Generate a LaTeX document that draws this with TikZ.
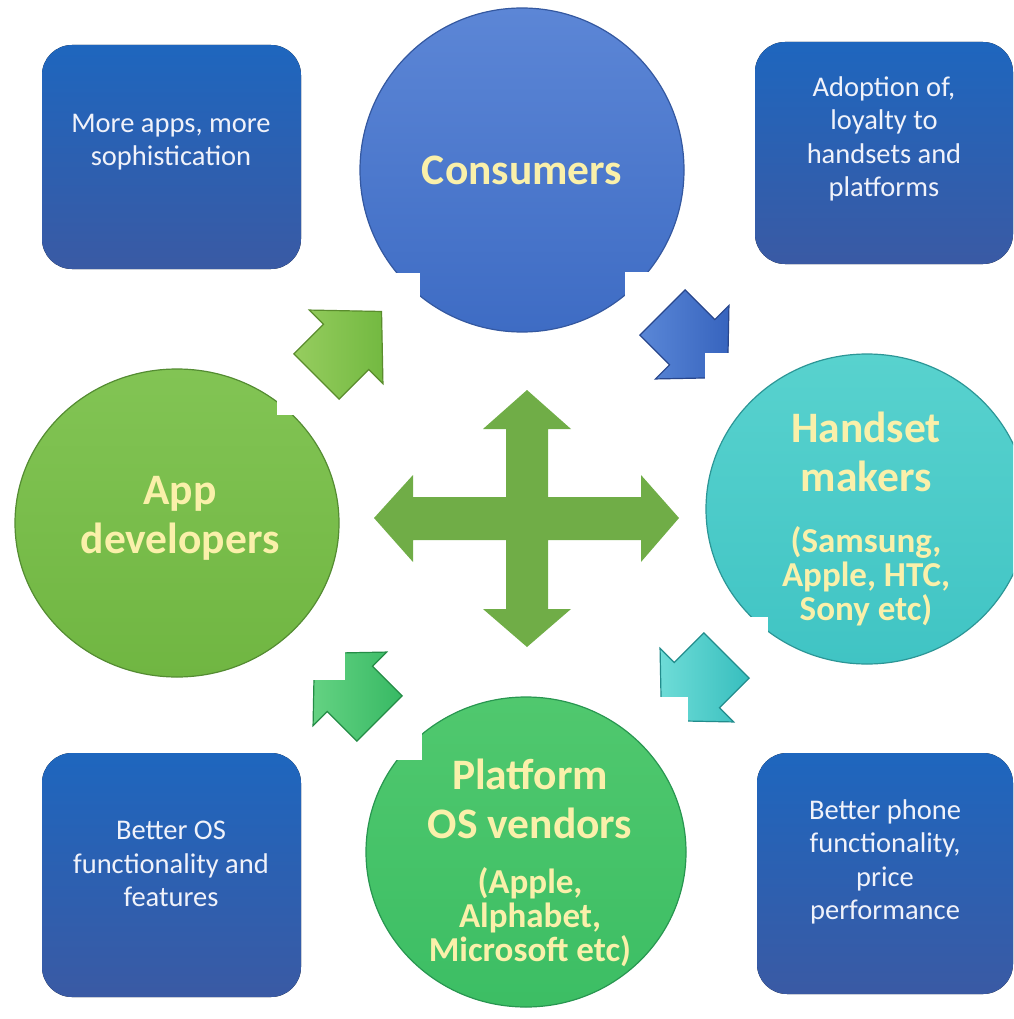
\documentclass[tikz,border=0pt]{standalone}
\usepackage{fontspec}
\setmainfont{Carlito}
\definecolor{boxtop}{RGB}{30,102,190}
\definecolor{boxbot}{RGB}{58,90,164}
\definecolor{boxtext}{RGB}{240,242,250}
\definecolor{ringtext}{RGB}{250,240,170}
\definecolor{crossgreen}{RGB}{112,173,71}
\tikzset{
  infobox/.style={rounded corners=30pt,top color=boxtop,bottom color=boxbot},
  infotext/.style={text=boxtext,align=center,font=\fontsize{28.5}{33.5}\selectfont},
  ringtitle/.style={text=ringtext,align=center,font=\bfseries\fontsize{43.5}{49}\selectfont},
  ringsub/.style={text=ringtext,align=center,font=\bfseries\fontsize{35}{34}\selectfont},
  cutout/.style={fill=white},
  bevel/.style={line width=1.2pt,line join=miter},
}
\begin{document}
\begin{tikzpicture}[x=1pt,y=-1pt]
\useasboundingbox (0,0) rectangle (1013,1019);
\clip (0,0) rectangle (1013,1019);
% corner boxes
\fill[infobox] (42,45) rectangle (301,269);
\node[infotext] (moreapps) at (171,142) {More apps, more\\sophistication};
\fill[infobox] (755,42) rectangle (1013,264);
\node[infotext] (adoption) at (884,139) {Adoption of,\\loyalty to\\handsets and\\platforms};
\fill[infobox] (42,753) rectangle (301,997);
\node[infotext] (betteros) at (171,864) {Better OS\\functionality and\\features};
\fill[infobox] (757,753) rectangle (1013,994);
\node[infotext] (betterphone) at (885,862) {Better phone\\functionality,\\price\\performance};
% consumers
\draw[bevel,draw={rgb,255:red,52;green,88;blue,160},top color={rgb,255:red,92;green,134;blue,214},bottom color={rgb,255:red,62;green,108;blue,196}]
  (522,170) ellipse [x radius=162pt,y radius=162pt];
\node[ringtitle] (consumers) at (522,170) {Consumers};
% consumers -> handset makers
\fill[cutout] (625,272) rectangle (740,392);
\begin{scope}[shift={(695,345)},rotate=-45]
\draw[bevel,draw={rgb,255:red,40;green,70;blue,140},left color={rgb,255:red,90;green,135;blue,215},right color={rgb,255:red,55;green,100;blue,190}]
  (-46,-32) -- (-4,-32) -- (-4,-52) -- (46,0) -- (-4,52) -- (-4,32) -- (-46,32) -- cycle;
\end{scope}
% handset makers
\fill[cutout] (705,353) rectangle (1013,665);
\draw[bevel,draw={rgb,255:red,44;green,150;blue,150},top color={rgb,255:red,88;green,210;blue,206},bottom color={rgb,255:red,64;green,196;blue,196}]
  (867,509) ellipse [x radius=161pt,y radius=155pt];
\node[ringtitle] (handset) at (866,452) {Handset\\makers};
\node[ringsub] (handsetsub) at (866,576) {(Samsung,\\Apple, HTC,\\Sony etc)};
% handset makers -> platform
\fill[cutout] (648,617) rectangle (768,735);
\begin{scope}[shift={(694,688)},rotate=-135]
\draw[bevel,draw={rgb,255:red,34;green,140;blue,140},left color={rgb,255:red,110;green,220;blue,215},right color={rgb,255:red,55;green,190;blue,190}]
  (-46,-32) -- (-4,-32) -- (-4,-52) -- (46,0) -- (-4,52) -- (-4,32) -- (-46,32) -- cycle;
\end{scope}
% platform os vendors
\fill[cutout] (365,697) rectangle (688,1019);
\draw[bevel,draw={rgb,255:red,40;green,150;blue,80},top color={rgb,255:red,80;green,200;blue,110},bottom color={rgb,255:red,60;green,190;blue,100}]
  (526,852) ellipse [x radius=160pt,y radius=155pt];
\node[ringtitle] (platform) at (530,799) {Platform\\OS vendors};
\node[ringsub] (platformsub) at (530,917) {(Apple,\\Alphabet,\\Microsoft etc)};
% platform -> app developers
\fill[cutout] (300,635) rectangle (422,760);
\begin{scope}[shift={(347,686)},rotate=135]
\draw[bevel,draw={rgb,255:red,36;green,140;blue,70},left color={rgb,255:red,100;green,210;blue,130},right color={rgb,255:red,55;green,185;blue,100}]
  (-46,-32) -- (-4,-32) -- (-4,-52) -- (46,0) -- (-4,52) -- (-4,32) -- (-46,32) -- cycle;
\end{scope}
% app developers
\fill[cutout] (14,368) rectangle (345,680);
\draw[bevel,draw={rgb,255:red,84;green,140;blue,50},top color={rgb,255:red,130;green,196;blue,84},bottom color={rgb,255:red,112;green,182;blue,66}]
  (177,523) ellipse [x radius=162pt,y radius=154pt];
\node[ringtitle] (appdev) at (180,518) {App\\developers};
% app developers -> consumers
\fill[cutout] (277,273) rectangle (420,415);
\begin{scope}[shift={(349,344)},rotate=45]
\draw[bevel,draw={rgb,255:red,90;green,140;blue,45},left color={rgb,255:red,150;green,205;blue,95},right color={rgb,255:red,115;green,185;blue,65}]
  (-46,-32) -- (-4,-32) -- (-4,-52) -- (46,0) -- (-4,52) -- (-4,32) -- (-46,32) -- cycle;
\end{scope}
% centre cross
\fill[crossgreen] (527,390) -- (571,429) -- (548,429) -- (548,497) -- (641,497) -- (641,475)
  -- (679,518) -- (641,562) -- (641,540) -- (548,540) -- (548,609) -- (571,609) -- (527,647)
  -- (483,609) -- (506,609) -- (506,540) -- (413,540) -- (413,562) -- (374,518) -- (413,475)
  -- (413,497) -- (506,497) -- (506,429) -- (483,429) -- cycle;
\end{tikzpicture}
\end{document}
